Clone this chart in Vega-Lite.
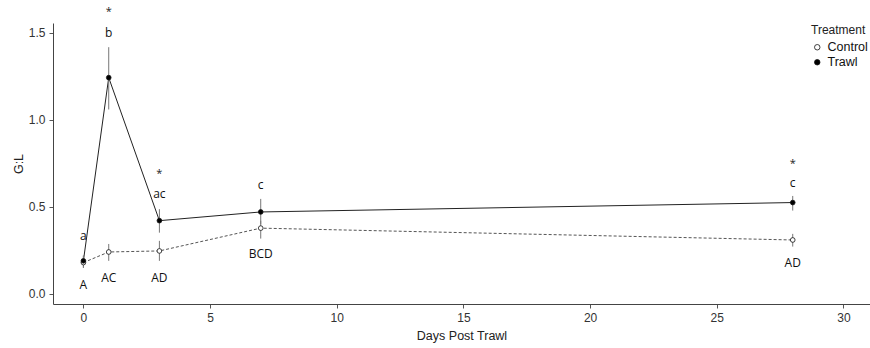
{
  "$schema": "https://vega.github.io/schema/vega-lite/v6.json",
  "width": 817,
  "height": 281,
  "autosize": "none",
  "padding": {"left": 53, "top": 23, "right": 0, "bottom": 44},
  "background": "white",
  "config": {
    "view": {"stroke": null},
    "font": "Liberation Sans",
    "axis": {
      "grid": false,
      "domainColor": "#444444",
      "tickColor": "#555555",
      "tickSize": 4,
      "labelColor": "#333333",
      "labelFontSize": 12,
      "labelFont": "Liberation Sans",
      "titleFont": "Liberation Sans",
      "titleFontSize": 12.5,
      "titleFontWeight": "normal",
      "titleColor": "#222222"
    }
  },
  "datasets": {
    "stats": [
      {"day": 0, "treatment": "Control", "mean": 0.18, "lo": 0.15, "hi": 0.22},
      {"day": 1, "treatment": "Control", "mean": 0.241, "lo": 0.19, "hi": 0.287},
      {"day": 3, "treatment": "Control", "mean": 0.247, "lo": 0.19, "hi": 0.305},
      {"day": 7, "treatment": "Control", "mean": 0.378, "lo": 0.318, "hi": 0.421},
      {"day": 28, "treatment": "Control", "mean": 0.31, "lo": 0.272, "hi": 0.345},
      {"day": 0, "treatment": "Trawl", "mean": 0.19, "lo": 0.15, "hi": 0.22},
      {"day": 1, "treatment": "Trawl", "mean": 1.243, "lo": 1.06, "hi": 1.418},
      {"day": 3, "treatment": "Trawl", "mean": 0.421, "lo": 0.352, "hi": 0.487},
      {"day": 7, "treatment": "Trawl", "mean": 0.471, "lo": 0.4, "hi": 0.546},
      {"day": 28, "treatment": "Trawl", "mean": 0.525, "lo": 0.479, "hi": 0.563}
    ],
    "letters": [
      {"day": 0, "y": 0.333, "label": "a"},
      {"day": 1, "y": 1.498, "label": "b"},
      {"day": 3, "y": 0.573, "label": "ac"},
      {"day": 7, "y": 0.626, "label": "c"},
      {"day": 28, "y": 0.636, "label": "c"},
      {"day": 0, "y": 0.052, "label": "A"},
      {"day": 1, "y": 0.094, "label": "AC"},
      {"day": 3, "y": 0.094, "label": "AD"},
      {"day": 7, "y": 0.23, "label": "BCD"},
      {"day": 28, "y": 0.18, "label": "AD"}
    ],
    "stars": [
      {"day": 1, "y": 1.62, "label": "*"},
      {"day": 3, "y": 0.69, "label": "*"},
      {"day": 28, "y": 0.747, "label": "*"}
    ]
  },
  "layer": [
    {
      "data": {"name": "stats"},
      "transform": [{"filter": "datum.treatment === 'Control'"}],
      "mark": {"type": "line", "strokeWidth": 1, "color": "#555555", "strokeDash": [3, 2]},
      "encoding": {
        "x": {"field": "day", "type": "quantitative", "scale": {"domain": [-1.2, 31.05], "nice": false, "zero": false},
              "axis": {"title": "Days Post Trawl", "values": [0, 5, 10, 15, 20, 25, 30], "labelPadding": 4, "titlePadding": 6}},
        "y": {"field": "mean", "type": "quantitative", "scale": {"domain": [-0.058, 1.557], "nice": false, "zero": false},
              "axis": {"title": "G:L", "values": [0, 0.5, 1.0, 1.5], "format": ".1f", "labelPadding": 4, "titlePadding": 3}}
      }
    },
    {
      "data": {"name": "stats"},
      "transform": [{"filter": "datum.treatment === 'Trawl'"}],
      "mark": {"type": "line", "strokeWidth": 1, "color": "#222222"},
      "encoding": {
        "x": {"field": "day", "type": "quantitative"},
        "y": {"field": "mean", "type": "quantitative"}
      }
    },
    {
      "data": {"name": "stats"},
      "mark": {"type": "rule", "color": "#777777", "strokeWidth": 1},
      "encoding": {
        "x": {"field": "day", "type": "quantitative"},
        "y": {"field": "lo", "type": "quantitative"},
        "y2": {"field": "hi"}
      }
    },
    {
      "data": {"name": "stats"},
      "mark": {"type": "point", "shape": "circle", "size": 22, "stroke": "#111111", "strokeWidth": 0.8, "opacity": 1, "filled": true},
      "encoding": {
        "x": {"field": "day", "type": "quantitative"},
        "y": {"field": "mean", "type": "quantitative"},
        "fill": {"field": "treatment", "type": "nominal", "scale": {"domain": ["Control", "Trawl"], "range": ["white", "black"]},
                 "legend": {"title": "Treatment", "orient": "none", "legendX": 758, "legendY": 2,
                            "titleFont": "Liberation Sans", "titleFontSize": 12, "titleFontWeight": "normal", "titleColor": "#222222",
                            "labelFont": "Liberation Sans", "labelFontSize": 12.5, "labelColor": "#111111",
                            "symbolType": "circle", "symbolStrokeColor": "#111111", "symbolStrokeWidth": 0.8, "symbolSize": 30,
                            "rowPadding": 2, "titlePadding": 4}}
      }
    },
    {
      "data": {"name": "letters"},
      "mark": {"type": "text", "font": "Open Sans", "fontSize": 12, "color": "#111111", "baseline": "middle"},
      "encoding": {
        "x": {"field": "day", "type": "quantitative"},
        "y": {"field": "y", "type": "quantitative"},
        "text": {"field": "label"}
      }
    },
    {
      "data": {"name": "stars"},
      "mark": {"type": "text", "font": "Open Sans", "fontSize": 11, "color": "#222222", "baseline": "middle", "clip": false},
      "encoding": {
        "x": {"field": "day", "type": "quantitative"},
        "y": {"field": "y", "type": "quantitative"},
        "text": {"field": "label"}
      }
    }
  ]
}
